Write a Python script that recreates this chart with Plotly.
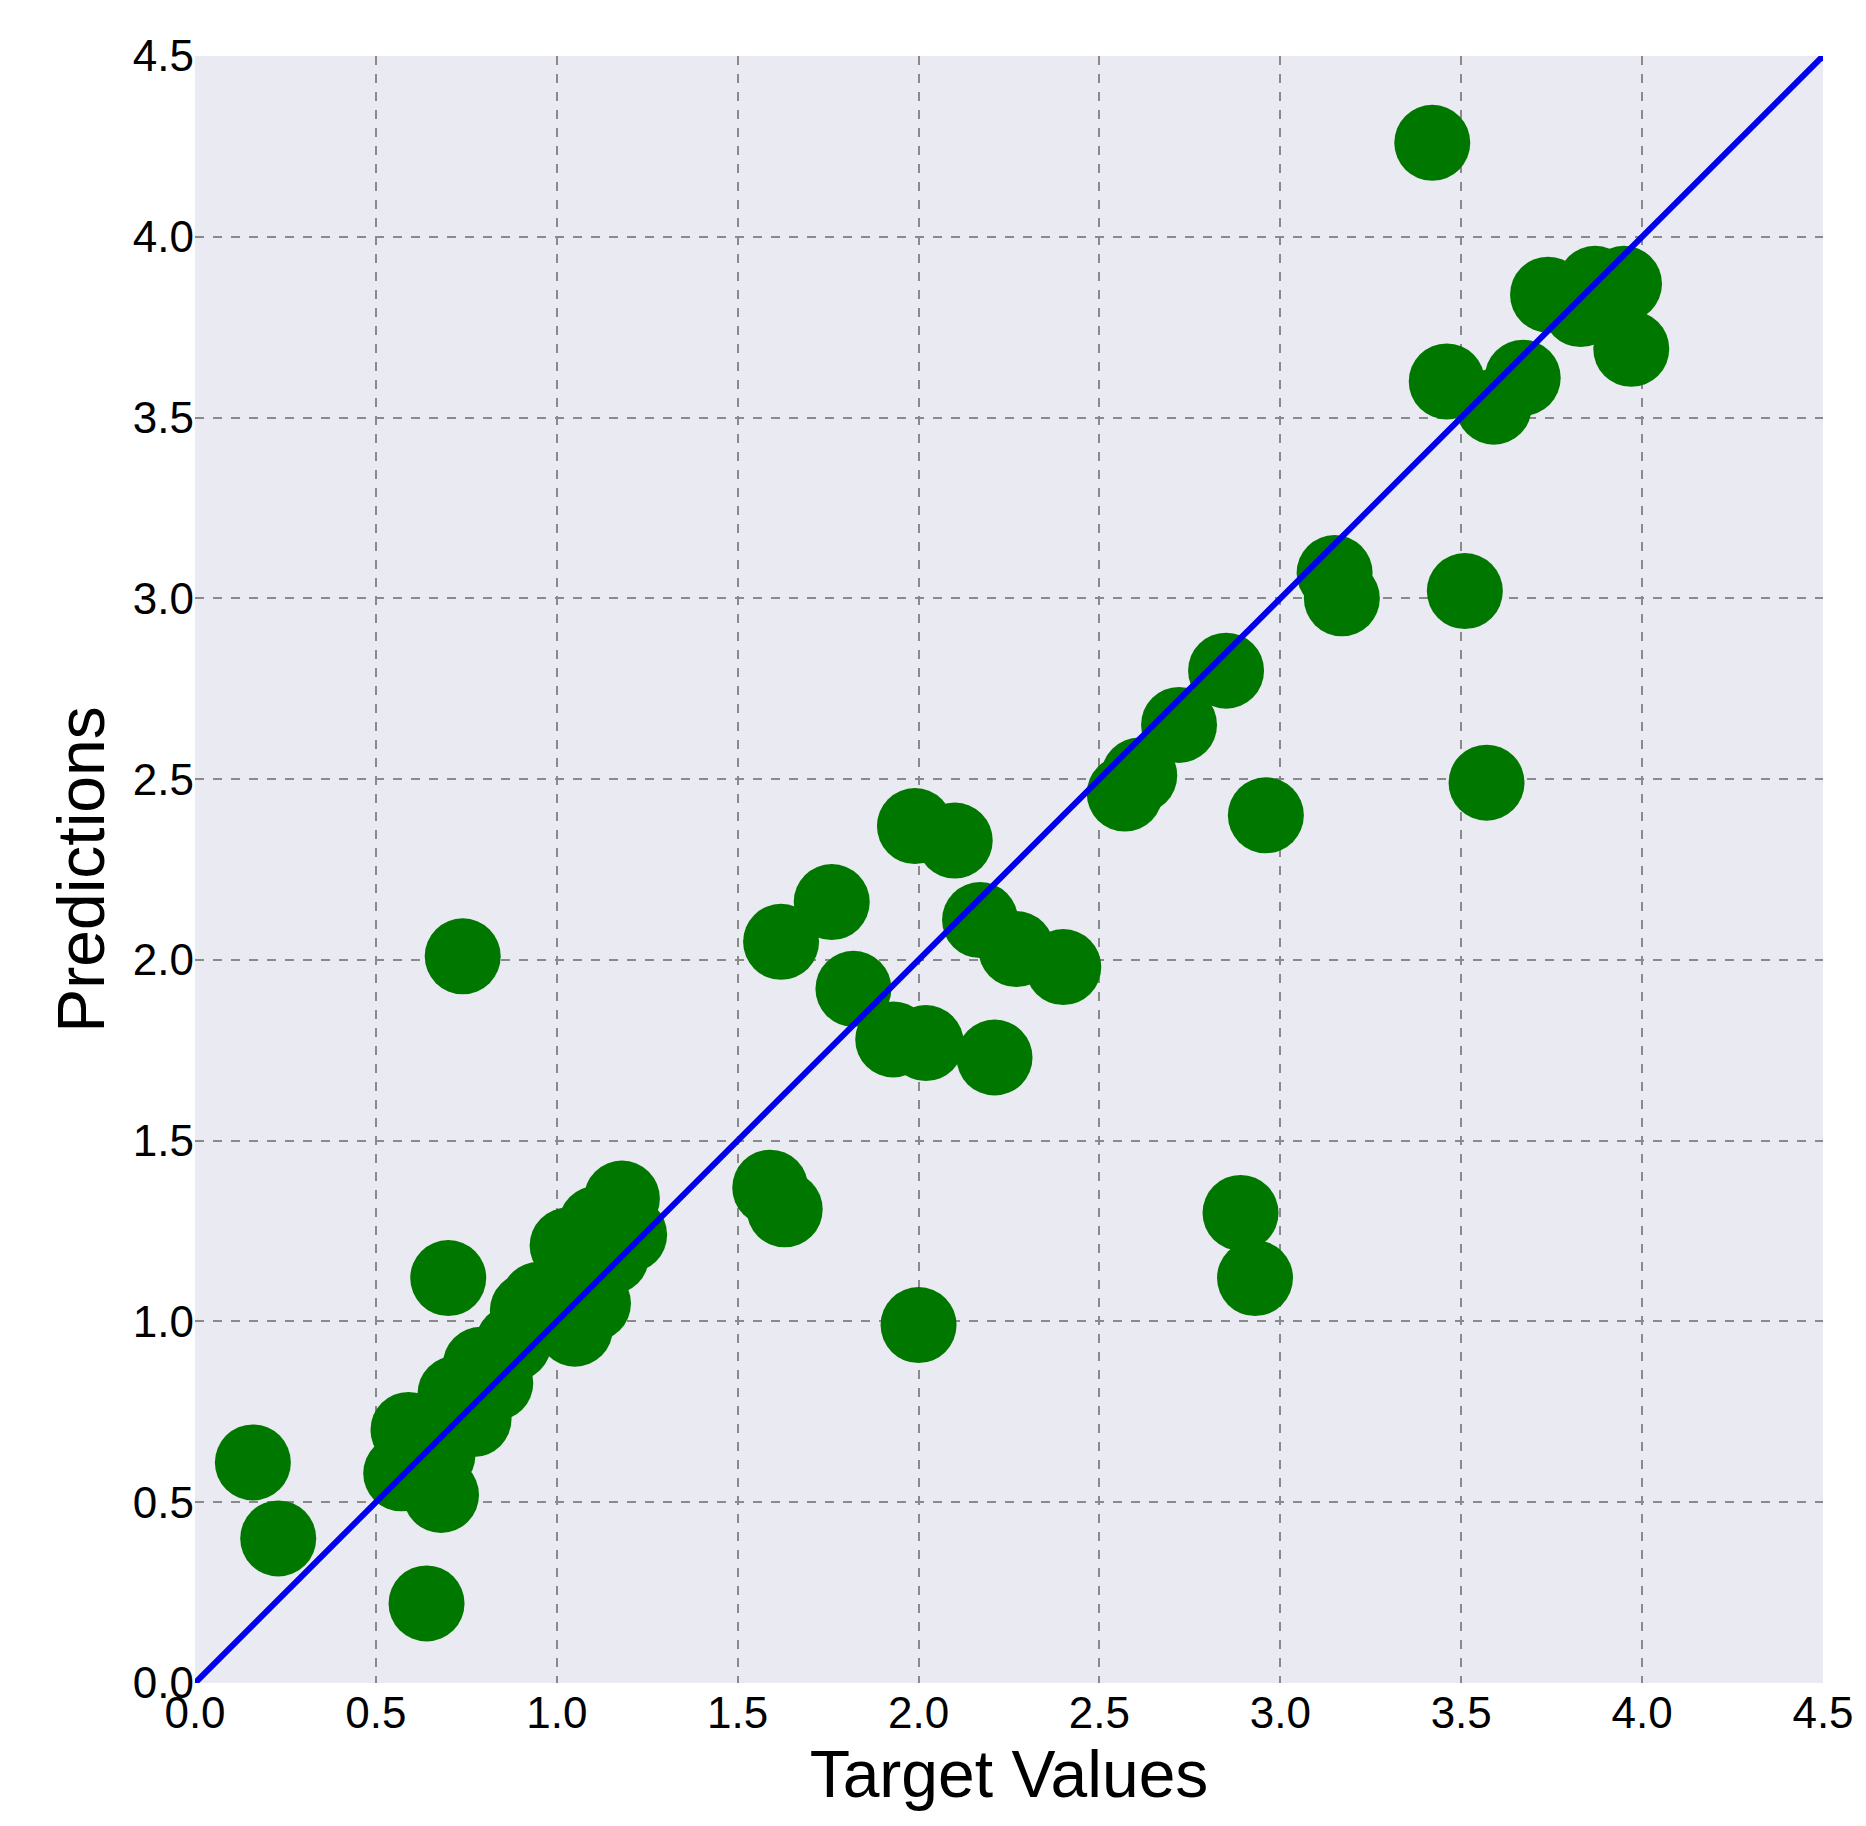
import plotly.graph_objects as go

target = [0.16,0.23,0.64,0.74,0.70,0.59,0.57,0.68,0.67,0.72,0.77,0.79,0.83,0.88,0.92,0.95,1.05,1.10,1.03,1.11,1.15,1.18,1.20,
          1.59,1.63,1.62,1.76,1.82,1.93,2.02,2.00,1.99,2.10,2.17,2.27,2.40,2.21,2.57,2.61,2.72,2.85,2.96,2.89,2.93,
          3.15,3.17,3.51,3.57,3.42,3.46,3.59,3.67,3.74,3.83,3.87,3.95,3.97]
preds = [0.61,0.40,0.22,2.01,1.12,0.70,0.58,0.52,0.63,0.80,0.73,0.88,0.83,0.94,1.03,1.06,0.98,1.05,1.21,1.27,1.18,1.34,1.24,
         1.37,1.31,2.05,2.16,1.92,1.78,1.77,0.99,2.37,2.33,2.11,2.03,1.98,1.73,2.46,2.51,2.65,2.80,2.40,1.30,1.12,
         3.07,3.00,3.02,2.49,4.26,3.60,3.53,3.61,3.84,3.80,3.87,3.87,3.69]
line_xy = [0, 4.5]

fig = go.Figure()
fig.add_trace(go.Scatter(x=target, y=preds, mode="markers",
                         marker=dict(size=76, color="#007800", line=dict(width=0)), showlegend=False))
fig.add_trace(go.Scatter(x=line_xy, y=line_xy, mode="lines",
                         line=dict(color="#0000ee", width=6), showlegend=False))

ax = dict(range=[0, 4.5], dtick=0.5, tickformat=".1f", showgrid=True, gridcolor="#8a8a8a",
          griddash="dash", gridwidth=1.5, zeroline=False, showline=False, ticks="",
          tickfont=dict(size=44, color="black"))
fig.update_layout(
    width=1866, height=1826, paper_bgcolor="white", plot_bgcolor="#EAEAF2",
    font=dict(family="Liberation Sans, Arial", color="black"),
    margin=dict(l=187, r=51, t=48, b=151),
    xaxis=dict(**ax, title=dict(text="Target Values", font=dict(size=66), standoff=6)),
    yaxis=dict(**ax, title=dict(text="Predictions", font=dict(size=66), standoff=6)),
)
fig.write_html("out.html")
